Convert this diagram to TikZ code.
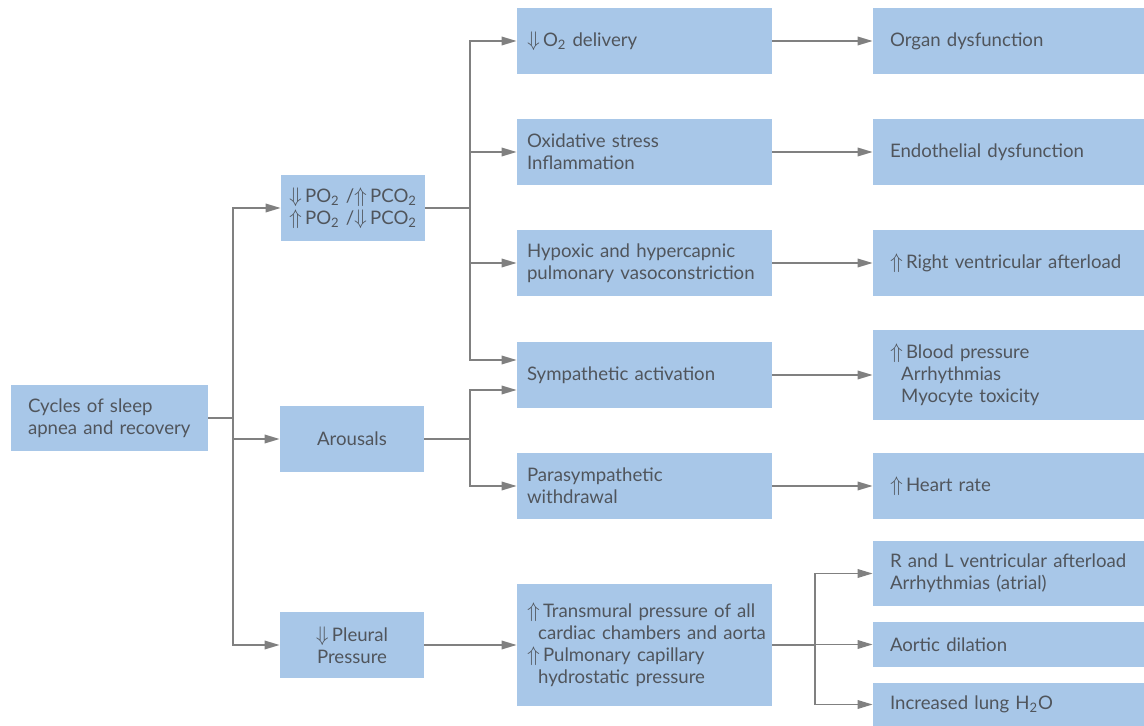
\documentclass[tikz,border=0pt]{standalone}
\usepackage{fontspec}
\setmainfont{Lato}
\usepackage{tikz}
\usetikzlibrary{arrows.meta,positioning,calc}

\definecolor{boxblue}{RGB}{168,199,232}
\definecolor{txtgray}{RGB}{80,85,92}
\definecolor{lngray}{RGB}{128,128,128}

\newcommand{\arrup}{{\large$\Uparrow$}\,}
\newcommand{\arrdn}{{\large$\Downarrow$}\,}
\newcommand{\hang}{\hspace*{0.6em}}

\tikzset{
  blk/.style={fill=boxblue, text=txtgray, align=left, inner ysep=0pt,
    font=\fontsize{10.6}{12.6}\selectfont,
    execute at begin node={\hyphenpenalty=10000\relax}},
  leftbox/.style={blk, text width=3.26cm, inner xsep=0.34cm, minimum height=1.32cm},
  smallbox/.style={blk, align=center, text width=2.56cm, inner xsep=0.16cm, minimum height=1.32cm},
  midbox/.style={blk, text width=4.7cm, inner xsep=0.2cm, minimum height=1.32cm},
  rightbox/.style={blk, text width=4.74cm, inner xsep=0.34cm, minimum height=1.32cm},
  line/.style={draw=lngray, line width=1pt},
  arr/.style={line, -{Triangle[length=3mm,width=1.7mm]}},
}

\begin{document}
\begin{tikzpicture}[x=0.02cm, y=-0.02cm]
    \useasboundingbox (0,0) rectangle (1144,726);

    % Source
    \node[leftbox] (cyc) at (109.5,418) {Cycles of sleep\\\mbox{apnea and recovery}};

    % Second column
    \node[smallbox] (po2) at (353,208) {\arrdn PO\textsubscript{2} /\arrup PCO\textsubscript{2}\\
        \arrup PO\textsubscript{2} /\arrdn PCO\textsubscript{2}};
    \node[smallbox] (aro) at (352,439) {Arousals};
    \node[smallbox] (ple) at (352,645) {\arrdn Pleural\\Pressure};

    % Third column
    \node[midbox] (o2d) at (644.5,41) {\arrdn O\textsubscript{2} delivery};
    \node[midbox] (oxi) at (644.5,152) {Oxidative stress\\Inflammation};
    \node[midbox] (hyp) at (644.5,263) {Hypoxic and hypercapnic\\pulmonary vasoconstriction};
    \node[midbox] (sym) at (644.5,375) {Sympathetic activation};
    \node[midbox] (par) at (644.5,486) {Parasympathetic\\withdrawal};
    \node[midbox, minimum height=2.44cm] (tra) at (644.5,645)
        {\arrup Transmural pressure of all\\\hang\mbox{cardiac chambers and aorta}\\
         \arrup Pulmonary capillary\\\hang hydrostatic pressure};

    % Outcomes
    \node[rightbox] (org) at (1008.5,41) {Organ dysfunction};
    \node[rightbox] (end) at (1008.5,152) {Endothelial dysfunction};
    \node[rightbox] (rva) at (1008.5,263) {\arrup Right ventricular afterload};
    \node[rightbox, minimum height=1.8cm] (bp) at (1008.5,375)
        {\arrup Blood pressure\\\hang Arrhythmias\\\hang Myocyte toxicity};
    \node[rightbox] (hr) at (1008.5,486) {\arrup Heart rate};
    \node[rightbox, minimum height=1.3cm] (rl) at (1008.5,573.5)
        {R and L ventricular afterload\\Arrhythmias (atrial)};
    \node[rightbox, minimum height=0.9cm] (aor) at (1008.5,644.5) {Aortic dilation};
    \node[rightbox, minimum height=0.86cm] (lung) at (1008.5,704.5)
        {Increased lung H\textsubscript{2}O};

    % Branch points
    \coordinate (j1) at (233,418);
    \coordinate (j2) at (470,208);
    \coordinate (j3) at (470,439);
    \coordinate (j4) at (815,645);

    % Connectors
    \draw[line] (cyc.east) -- (j1);
    \foreach \n in {po2,aro,ple}
        \draw[arr] (j1) |- (\n.west);

    \draw[line] (po2.east) -- (j2);
    \foreach \n in {o2d,oxi,hyp}
        \draw[arr] (j2) |- (\n.west);
    \draw[arr] (j2) |- ($(sym.west)+(0,-15)$);

    \draw[line] (aro.east) -- (j3);
    \draw[arr] (j3) |- ($(sym.west)+(0,15)$);
    \draw[arr] (j3) |- (par.west);

    \draw[arr] (ple) -- (tra);

    \draw[line] (tra.east) -- (j4);
    \foreach \n in {rl,aor,lung}
        \draw[arr] (j4) |- (\n.west);

    \draw[arr] (o2d) -- (org);
    \draw[arr] (oxi) -- (end);
    \draw[arr] (hyp) -- (rva);
    \draw[arr] (sym) -- (bp);
    \draw[arr] (par) -- (hr);
\end{tikzpicture}
\end{document}
